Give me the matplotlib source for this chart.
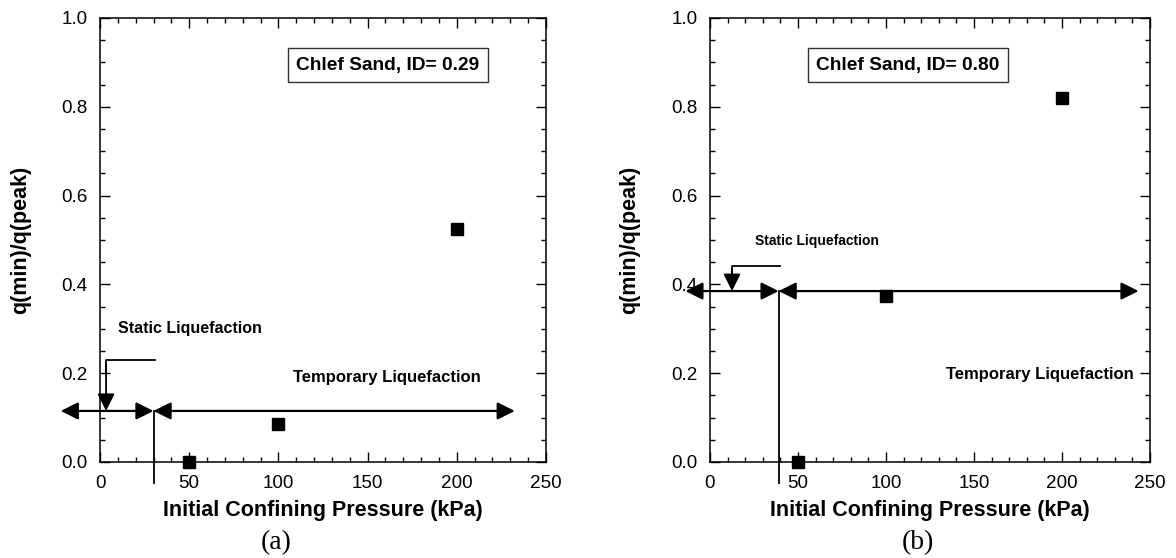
import numpy as np
import matplotlib
matplotlib.use('Agg')
import matplotlib.pyplot as plt
from matplotlib.ticker import MultipleLocator

plt.rcParams['font.family'] = 'Liberation Sans'

# test data: q(min)/q(peak) against initial confining pressure
pressure = [50, 100, 200]
ratio_a = [0.0, 0.085, 0.525]
ratio_b = [0.0, 0.375, 0.82]
titles = ['Chlef Sand, ID= 0.29', 'Chlef Sand, ID= 0.80']
panel_tags = ['(a)', '(b)']

# boundary between static and temporary liquefaction
split_p = [30, 39]
split_q = [0.115, 0.385]
left_end = [-22, -14]
right_end = [232.5, 243.5]

W, H = 1176, 558
fig = plt.figure(figsize=(W / 100, H / 100), dpi=100)

def px(x0, y0, x1, y1):
    return [x0 / W, 1 - y1 / H, (x1 - x0) / W, (y1 - y0) / H]

axes = [fig.add_axes(px(100, 18, 546, 462)), fig.add_axes(px(710, 18, 1150, 462))]

settings = [
    dict(data=ratio_a, box=(161.4, 0.894), temp=(161, 0.19),
         stat=(10, 0.30), stat_fs=11.5, bend=(3.4, 0.23, 31), tag_x=276, ylab=-0.179),
    dict(data=ratio_b, box=(112.5, 0.894), temp=(187.5, 0.196),
         stat=(25.6, 0.498), stat_fs=10, bend=(12.5, 0.441, 40), tag_x=918, ylab=-0.182),
]

head = '-|>,head_length=0.7,head_width=0.35'
both = '<|-|>,head_length=0.7,head_width=0.35'

for i, ax in enumerate(axes):
    s = settings[i]
    ax.plot(pressure, s['data'], 's', color='black', markersize=8.5, clip_on=False, zorder=5)
    ax.set_xlim(0, 250)
    ax.set_ylim(0, 1.0)
    ax.xaxis.set_major_locator(MultipleLocator(50))
    ax.xaxis.set_minor_locator(MultipleLocator(10))
    ax.yaxis.set_major_locator(MultipleLocator(0.2))
    ax.yaxis.set_minor_locator(MultipleLocator(0.05))
    ax.yaxis.set_major_formatter(plt.FormatStrFormatter('%.1f'))
    ax.tick_params(which='both', direction='in', top=True, right=True, width=1)
    ax.tick_params(which='major', length=7, labelsize=13.6, pad=9)
    ax.tick_params(which='minor', length=3.5)
    for sp in ax.spines.values():
        sp.set_linewidth(1.1)

    ax.set_xlabel('Initial Confining Pressure (kPa)', fontsize=15.5, fontweight='bold', va='center')
    ax.xaxis.set_label_coords(0.5, -0.11)
    ax.set_ylabel('q(min)/q(peak)', fontsize=15.5, fontweight='bold', va='center')
    ax.yaxis.set_label_coords(s['ylab'], 0.5)

    ax.text(s['box'][0], s['box'][1], titles[i], fontsize=13.8, fontweight='bold',
            ha='center', va='center',
            bbox=dict(boxstyle='square,pad=0.45', facecolor='white', edgecolor='#333333', linewidth=1))
    ax.text(s['temp'][0], s['temp'][1], 'Temporary Liquefaction', fontsize=12,
            fontweight='bold', ha='center', va='center')
    ax.text(s['stat'][0], s['stat'][1], 'Static Liquefaction', fontsize=s['stat_fs'],
            fontweight='bold', ha='left', va='center')

    xp, yq = split_p[i], split_q[i]
    ap = dict(arrowstyle=both, color='black', lw=1.6, shrinkA=0, shrinkB=0, mutation_scale=15)
    ax.annotate('', xy=(left_end[i], yq), xytext=(xp, yq), arrowprops=ap, annotation_clip=False)
    ax.annotate('', xy=(xp, yq), xytext=(right_end[i], yq), arrowprops=ap, annotation_clip=False)
    ax.plot([xp, xp], [-0.048, yq], color='black', lw=1.3, clip_on=False)

    bx, by, bend_end = s['bend']
    ax.plot([bend_end, bx, bx], [by, by, by - 0.03], color='black', lw=1.3, clip_on=False)
    ax.annotate('', xy=(bx, yq), xytext=(bx, by - 0.01),
                arrowprops=dict(arrowstyle=head, color='black', lw=1.3, shrinkA=0, shrinkB=0,
                                mutation_scale=15), annotation_clip=False)

    fig.text(s['tag_x'] / W, 1 - 543 / H, panel_tags[i], fontsize=20,
             family='Liberation Serif', ha='center', va='center')

fig.savefig('out.png', dpi=100)
